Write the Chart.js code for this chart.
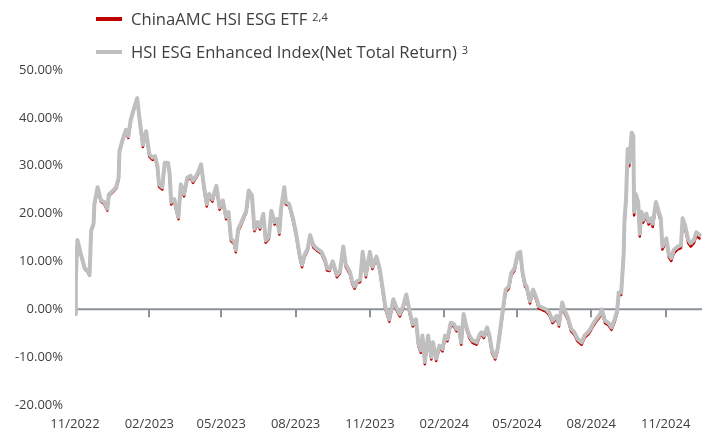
<!DOCTYPE html>
<html>
<head>
<meta charset="utf-8">
<script src="https://cdn.jsdelivr.net/npm/chart.js@4.4.1/dist/chart.umd.min.js"></script>
<style>
  html, body { margin: 0; padding: 0; background: #fff; }
  #wrap { position: relative; width: 711px; height: 434px; }
  #legend { position: absolute; left: 96px; top: 2px; font-family: "Open Sans", sans-serif; font-size: 16.6px; color: #404040; }
  .item { display: flex; align-items: center; height: 33px; white-space: nowrap; }
  .swatch { width: 26px; height: 4px; margin-right: 9px; }
  .item sup { font-size: 11px; margin-left: 5px; position: relative; top: -2px; }
</style>
</head>
<body>
<div id="wrap">
  <canvas id="perfChart" width="711" height="434"></canvas>
  <div id="legend">
    <div class="item"><span class="swatch" style="background:#c00000"></span>ChinaAMC HSI ESG ETF<sup>2,4</sup></div>
    <div class="item"><span class="swatch" style="background:#bfbfbf"></span>HSI ESG Enhanced Index(Net Total Return)<sup>3</sup></div>
  </div>
</div>
<script>
// days since 1 Nov 2022
const dayIndex = [
  0, 1, 3, 7, 12, 16, 18, 20, 23, 24,
  28, 32, 36, 40, 42, 47, 51, 54, 55, 59,
  63, 66, 69, 73, 77, 80, 84, 88, 92, 96,
  99, 102, 104, 108, 111, 115, 117, 119, 123, 125,
  128, 131, 135, 139, 143, 146, 150, 152, 156, 160,
  163, 166, 170, 175, 179, 183, 187, 190, 193, 197,
  199, 202, 205, 208, 212, 215, 219, 222, 226, 229,
  233, 236, 240, 243, 247, 250, 253, 255, 259, 261,
  265, 270, 274, 278, 281, 284, 288, 291, 295, 299,
  305, 309, 312, 315, 319, 324, 328, 332, 335, 340,
  343, 346, 349, 353, 356, 360, 365, 368, 373, 377,
  381, 384, 389, 394, 398, 402, 406, 410, 414, 418,
  422, 425, 428, 430, 433, 437, 441, 443, 447, 451,
  455, 458, 461, 465, 469, 472, 475, 478, 481, 484,
  488, 492, 497, 501, 503, 506, 510, 513, 516, 520,
  523, 527, 530, 533, 537, 540, 544, 548, 551, 554,
  557, 559, 563, 567, 571, 574, 579, 583, 587, 591,
  596, 599, 603, 606, 610, 614, 618, 622, 627, 631,
  635, 638, 641, 645, 650, 652, 656, 660, 664, 668,
  671, 673, 676, 679, 680, 682, 684, 686, 689, 691,
  692, 694, 697, 699, 701, 703, 707, 710, 713, 715,
  719, 722, 725, 727, 732, 735, 738, 741, 746, 750,
  752, 755, 759, 762, 766, 769, 773
];

// cumulative return, %
const etfReturn = [
  -1.1, 6.0, 14.3, 11.5, 8.4, 7.7, 7.0, 16.2, 17.6, 21.7,
  25.2, 22.5, 22.0, 20.6, 23.7, 24.5, 25.2, 27.1, 32.7, 35.2,
  37.1, 35.8, 39.3, 41.7, 43.8, 39.2, 33.9, 36.8, 31.9, 31.2,
  31.6, 29.5, 25.6, 25.0, 30.2, 30.2, 28.2, 21.9, 22.6, 20.8,
  18.8, 25.7, 23.6, 27.1, 27.5, 26.4, 27.5, 28.1, 29.9, 24.7,
  21.5, 23.7, 22.5, 25.4, 20.8, 22.3, 18.8, 19.9, 14.3, 13.6,
  11.9, 16.4, 17.3, 18.6, 20.2, 24.4, 23.4, 16.3, 17.8, 16.7,
  19.5, 13.9, 14.7, 20.2, 17.7, 18.5, 15.6, 20.6, 25.1, 21.9,
  21.6, 18.4, 15.0, 10.8, 8.8, 10.9, 12.3, 15.1, 12.9, 12.3,
  11.6, 10.1, 8.1, 8.0, 9.6, 6.7, 7.5, 12.7, 8.9, 7.4,
  5.4, 4.3, 5.5, 5.7, 11.6, 6.7, 11.6, 8.4, 10.6, 8.1,
  3.6, 0.1, -2.6, 1.7, -0.2, -1.5, 0.1, 2.7, -0.8, -3.6,
  -2.6, -7.7, -9.1, -6.0, -11.5, -6.0, -10.5, -7.4, -10.8, -8.1,
  -8.8, -6.0, -6.7, -3.3, -3.6, -4.6, -4.3, -7.4, -1.5, -3.9,
  -6.0, -7.0, -7.4, -5.7, -5.3, -6.0, -4.3, -6.0, -9.1, -10.5,
  -8.8, -3.9, 0.0, 3.6, 4.3, 7.1, 8.1, 11.2, 11.6, 7.1,
  4.7, 4.3, 1.2, 3.6, 1.9, 0.2, -0.2, -0.5, -1.2, -2.9,
  -1.9, -3.6, 0.9, -0.8, -2.2, -4.6, -5.3, -6.7, -7.4, -5.9,
  -5.3, -4.6, -3.6, -2.6, -1.5, -0.5, -2.9, -3.3, -4.3, -2.6,
  -0.8, 3.0, 3.0, 10.8, 17.7, 22.5, 32.8, 29.9, 36.3, 35.5,
  19.6, 23.5, 21.8, 15.2, 19.8, 18.1, 19.4, 17.7, 18.4, 17.2,
  21.8, 20.1, 18.4, 12.5, 14.2, 10.8, 10.1, 11.7, 12.5, 12.8,
  18.4, 16.9, 13.8, 13.1, 13.8, 15.4, 14.8
];

const indexReturn = [
  -1.0, 6.2, 14.5, 11.7, 8.6, 7.9, 7.2, 16.5, 17.9, 22.0,
  25.5, 22.8, 22.4, 21.0, 24.0, 24.8, 25.5, 27.5, 33.0, 35.5,
  37.5, 36.2, 39.6, 42.0, 44.1, 39.6, 34.4, 37.2, 32.4, 31.7,
  32.0, 30.0, 26.1, 25.5, 30.6, 30.6, 28.6, 22.4, 23.0, 21.3,
  19.3, 26.1, 24.1, 27.5, 27.9, 26.9, 27.9, 28.5, 30.3, 25.2,
  22.0, 24.1, 23.0, 25.8, 21.3, 22.7, 19.3, 20.3, 14.8, 14.1,
  12.4, 16.8, 17.8, 19.0, 20.6, 24.8, 23.8, 16.8, 18.2, 17.2,
  19.9, 14.4, 15.1, 20.6, 18.2, 18.9, 16.1, 21.0, 25.5, 22.4,
  22.0, 18.9, 15.5, 11.3, 9.3, 11.3, 12.7, 15.5, 13.4, 12.7,
  12.0, 10.6, 8.6, 8.4, 10.0, 7.2, 7.9, 13.1, 9.4, 7.9,
  5.9, 4.8, 5.9, 6.2, 12.0, 7.2, 12.0, 8.9, 11.0, 8.6,
  4.1, 0.6, -2.1, 2.1, 0.3, -1.0, 0.6, 3.1, -0.3, -3.1,
  -2.1, -7.2, -8.6, -5.5, -11.0, -5.5, -10.0, -6.9, -10.3, -7.6,
  -8.3, -5.5, -6.2, -2.8, -3.1, -4.1, -3.8, -6.9, -1.0, -3.4,
  -5.5, -6.5, -6.9, -5.2, -4.8, -5.5, -3.8, -5.5, -8.6, -10.0,
  -8.3, -3.4, 0.5, 4.1, 4.8, 7.6, 8.6, 11.7, 12.0, 7.6,
  5.2, 4.8, 1.7, 4.1, 2.4, 0.7, 0.3, 0.0, -0.7, -2.4,
  -1.4, -3.1, 1.4, -0.3, -1.7, -4.1, -4.8, -6.2, -6.9, -5.4,
  -4.8, -4.1, -3.1, -2.1, -1.0, 0.0, -2.4, -2.8, -3.8, -2.1,
  -0.3, 3.5, 3.5, 11.4, 18.3, 23.1, 33.5, 30.7, 36.9, 36.2,
  20.4, 24.1, 22.4, 15.8, 20.4, 18.7, 20.0, 18.3, 19.0, 17.9,
  22.4, 20.7, 19.0, 13.1, 14.8, 11.4, 10.7, 12.4, 13.1, 13.4,
  19.0, 17.6, 14.5, 13.8, 14.5, 16.1, 15.5
];

const tickDays = [0, 92, 181, 273, 365, 457, 547, 639, 731];
const tickLabels = ["11/2022", "02/2023", "05/2023", "08/2023", "11/2023", "02/2024", "05/2024", "08/2024", "11/2024"];

const textColor = "#404040";
const axisFont = { family: "'Open Sans', sans-serif", size: 13 };

// zero line with small tick marks, like the original axis
const zeroAxis = {
  id: "zeroAxis",
  beforeDatasetsDraw(chart) {
    const { ctx, chartArea, scales } = chart;
    const y0 = scales.y.getPixelForValue(0);
    ctx.save();
    ctx.strokeStyle = "#8c9299";
    ctx.lineWidth = 2;
    ctx.beginPath();
    ctx.moveTo(chartArea.left, y0);
    ctx.lineTo(chartArea.right, y0);
    tickDays.forEach(d => {
      if (d === 0) return;
      const px = Math.round(scales.x.getPixelForValue(d));
      ctx.moveTo(px, y0);
      ctx.lineTo(px, y0 + 8);
    });
    ctx.stroke();
    ctx.restore();
  }
};

const ctx = document.getElementById("perfChart").getContext("2d");
new Chart(ctx, {
  type: "line",
  data: {
    datasets: [
      {
        label: "ChinaAMC HSI ESG ETF",
        data: dayIndex.map((d, i) => ({ x: d, y: etfReturn[i] })),
        borderColor: "#c00000",
        borderWidth: 2.5,
        borderJoinStyle: "round",
        borderCapStyle: "round",
        pointRadius: 0,
        tension: 0,
        order: 2
      },
      {
        label: "HSI ESG Enhanced Index(Net Total Return)",
        data: dayIndex.map((d, i) => ({ x: d, y: indexReturn[i] })),
        borderColor: "#bfbfbf",
        borderWidth: 4,
        borderJoinStyle: "round",
        borderCapStyle: "round",
        pointRadius: 0,
        tension: 0,
        order: 1
      }
    ]
  },
  options: {
    responsive: false,
    animation: false,
    devicePixelRatio: 1,
    layout: { padding: { top: 70, right: 9, left: 0, bottom: 0 } },
    plugins: {
      legend: { display: false },
      tooltip: { enabled: false }
    },
    scales: {
      x: {
        type: "linear",
        min: 0,
        max: 776,
        grid: { display: false, drawTicks: false },
        border: { display: false },
        afterBuildTicks: axis => { axis.ticks = tickDays.map(v => ({ value: v })); },
        afterFit: axis => { axis.height = 29; },
        ticks: {
          autoSkip: false,
          maxRotation: 0,
          padding: 11,
          color: textColor,
          font: axisFont,
          callback: v => tickLabels[tickDays.indexOf(v)]
        }
      },
      y: {
        min: -20,
        max: 50,
        grid: { display: false, drawTicks: false },
        border: { display: false },
        afterFit: axis => { axis.width = 75; },
        ticks: {
          stepSize: 10,
          padding: 12,
          color: textColor,
          font: axisFont,
          callback: v => v.toFixed(2) + "%"
        }
      }
    }
  },
  plugins: [zeroAxis]
});
</script>
</body>
</html>
